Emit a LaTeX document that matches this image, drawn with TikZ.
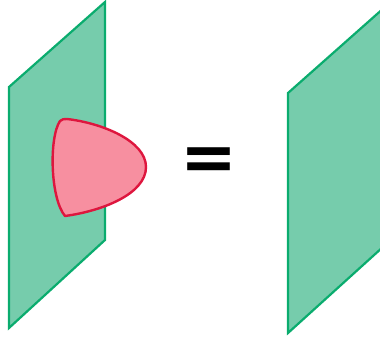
\documentclass[tikz,border=0pt]{standalone}
\usepackage{fontspec}
\setmainfont{DejaVu Sans}
\definecolor{planefill}{RGB}{118,204,172}
\definecolor{planeline}{RGB}{10,172,110}
\definecolor{blobfill}{RGB}{247,143,160}
\definecolor{blobline}{RGB}{222,22,62}
\begin{document}
\begin{tikzpicture}[x=1pt,y=-1pt,
  plane/.style={fill=planefill,draw=planeline,line width=2.2pt,line join=miter},
  blob/.style={fill=blobfill,draw=blobline,line width=2.4pt,line join=round}]
\useasboundingbox (0,0) rectangle (380,338);
\clip (0,0) rectangle (380,338);
% left plane
\draw[plane] (9,87) -- (105,2) -- (105,240) -- (9,328) -- cycle;
% blob
\draw[blob] (67,119) .. controls (102,123) and (146,141) .. (146,167)
  .. controls (146,194) and (102,211) .. (65,216)
  .. controls (50,198) and (49,137) .. (60,121)
  .. controls (62,119) and (64,119) .. (67,119) -- cycle;
% equals sign
\node[inner sep=0pt,anchor=base,font=\bfseries\fontsize{68}{68}\selectfont] (eq) at (209,180) {=};
% right plane
\draw[plane] (288,93) -- (394,-1) -- (394,237) -- (288,333) -- cycle;
\end{tikzpicture}
\end{document}
